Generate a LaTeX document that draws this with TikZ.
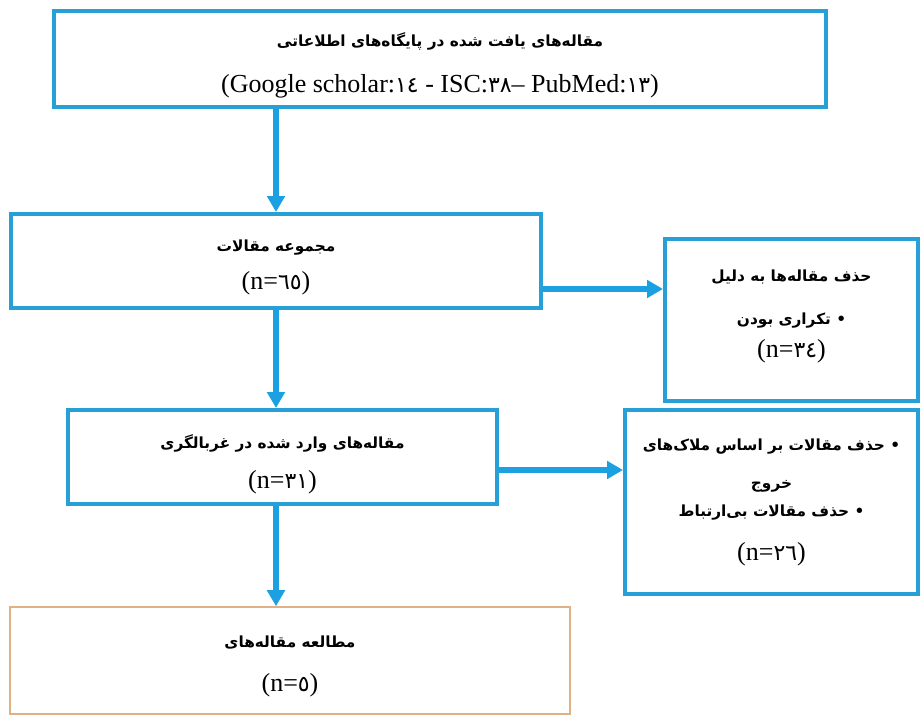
\documentclass[tikz,border=0pt]{standalone}
\usepackage{fontspec}
\setmainfont{Liberation Serif}
\newfontfamily\fafont[Script=Arabic]{DejaVu Sans}
\TeXXeTstate=1
\usetikzlibrary{arrows.meta}
\definecolor{boxblue}{RGB}{38,160,214}
\definecolor{arrblue}{RGB}{27,161,226}
\definecolor{boxtan}{RGB}{222,178,132}
\newcommand{\fa}[1]{{\fontsize{11.5}{22}\fafont\bfseries\beginR #1\endR}}
\newcommand{\fn}[1]{{\fontsize{16.5}{22}\fafont #1}}

\begin{document}
\begin{tikzpicture}[x=0.75pt,y=-0.75pt,>=Triangle,
  box/.style = {draw=boxblue, line width=3pt, align=center, inner sep=0pt, font=\fontsize{19.5}{22}\selectfont},
  arr/.style = {draw=arrblue, line width=4.5pt, -{Triangle[length=12pt,width=13pt]}},
]
\useasboundingbox (0,0) rectangle (922,717);
\node (found) at (440,59)[box, minimum width=579pt, minimum height=72pt]
  {\rule{0pt}{19.5pt}\fa{مقاله‌های یافت شده در پایگاه‌های اطلاعاتی}\\[12.5pt]
   (Google scholar:\fn{١٤} - ISC:\fn{٣٨}– PubMed:\fn{١٣})};
\node (total) at (276,261)[box, minimum width=397.5pt, minimum height=70.5pt]
  {\rule{0pt}{18pt}\fa{مجموعه مقالات}\\[6.75pt] (n=\fn{٦٥})};
\node (dup) at (791.5,320)[box, minimum width=189.75pt, minimum height=121.5pt]
  {\fa{حذف مقاله‌ها به دلیل}\\[10pt] \fa{• تکراری بودن}\\[3pt] (n=\fn{٣٤})\\[-12.5pt]\mbox{}};
\node (screen) at (282.5,457)[box, minimum width=321.75pt, minimum height=70.5pt]
  {\rule{0pt}{21pt}\fa{مقاله‌های وارد شده در غربالگری}\\[8pt] (n=\fn{٣١})};
\node (excl) at (771.5,502)[box, minimum width=219.75pt, minimum height=138pt]
  {\fa{• حذف مقالات بر اساس ملاک‌های}\\[7pt] \fa{خروج}\\[-1pt]
   \fa{• حذف مقالات بی‌ارتباط}\\[10.5pt] (n=\fn{٢٦})};
\node (study) at (290,660.5)[box, draw=boxtan, line width=1.2pt, minimum width=420pt, minimum height=80.25pt]
  {\rule{0pt}{18pt}\fa{مطالعه مقاله‌های}\\[10.75pt] (n=\fn{٥})};
% connectors
\coordinate (r1) at (0,289);
\coordinate (r2) at (0,470);
\draw[arr] (found.south -| total) -- (total.north);
\draw[arr] (total.south) -- (screen.north -| total);
\draw[arr] (screen.south -| total) -- (study.north -| total);
\draw[arr] (total.east |- r1) -- (dup.west |- r1);
\draw[arr] (screen.east |- r2) -- (excl.west |- r2);
\end{tikzpicture}
\end{document}
